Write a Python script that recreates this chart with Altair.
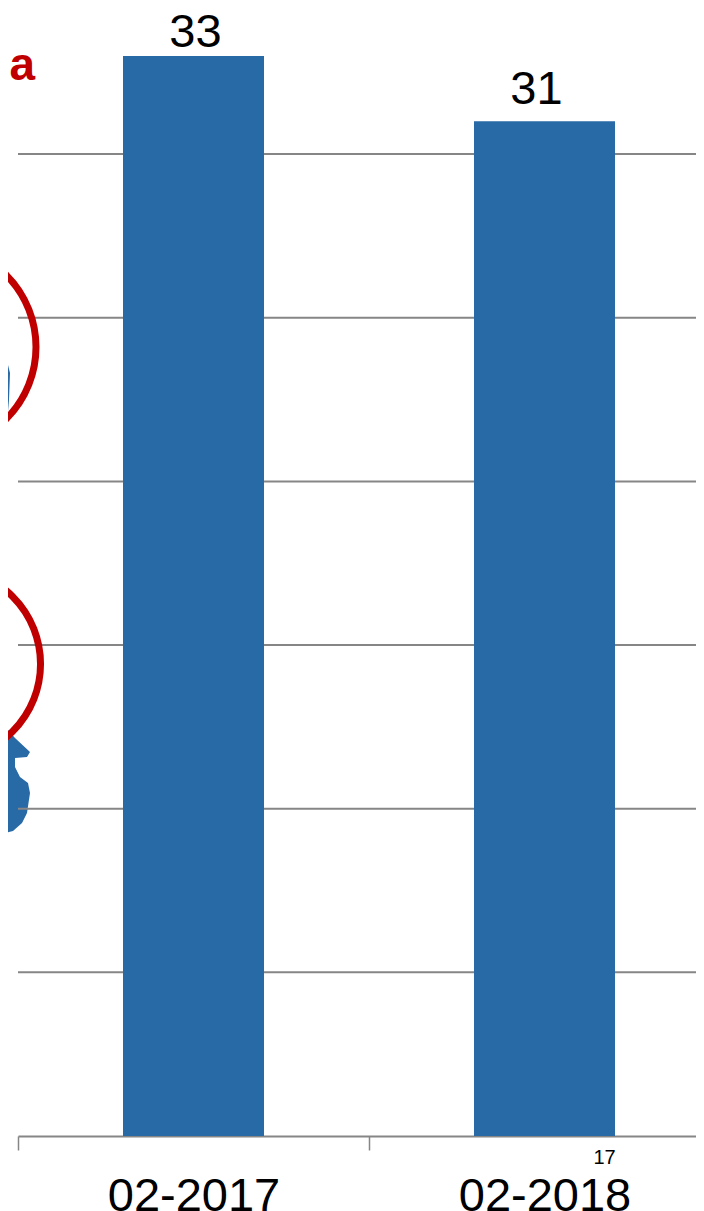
import altair as alt
import pandas as pd

periods = ["02-2017", "02-2018"]
values = [33, 31]
label_dx = [2, -8]
label_dy = [-9, -17]
grid_values = [5, 10, 15, 20, 25, 30]

# Map fragments behind the chart, read in picture units
upper_y = [327, 328, 337, 353, 373, 400, 423, 432]
upper_x = [0, 2, 7, 5, 10, 9, 7, 0]
lower_y = [703, 717, 730, 738, 752, 757, 758, 767, 777, 783, 793, 813, 823, 831, 834]
lower_x = [0, 3, 8, 15, 30, 27, 15, 15, 20, 28, 30, 27, 22, 13, 0]
ring_x = [-66, -55]
ring_y = [347, 664]
ring_size = [41616, 36500]

FONT = "Liberation Sans"
BLUE = "#286AA6"
GREY = "#868686"
RED = "#C00000"
W, H = 678, 1128
BAND_SPAN = 702

x_band = alt.Scale(domain=periods, paddingInner=0, paddingOuter=0, range=[0, BAND_SPAN])
y_val = alt.Scale(domain=[0, H / 32.73], nice=False, zero=False)
x_pic = alt.Scale(domain=[18, 18 + W], nice=False, zero=False)
y_pic = alt.Scale(domain=[1136, 8], nice=False, zero=False)

df = pd.DataFrame({"period": periods, "value": values, "dx": label_dx, "dy": label_dy})


def blob(xs, ys):
    d = pd.DataFrame({"px": xs, "py": ys, "left": [-10] * len(xs)})
    return alt.Chart(d).mark_area(color=BLUE, orient="horizontal", clip=False).encode(
        x=alt.X("px:Q", scale=x_pic, axis=None),
        x2="left:Q",
        y=alt.Y("py:Q", scale=y_pic, axis=None),
    )


grid = alt.Chart(pd.DataFrame({"v": grid_values})).mark_rule(color=GREY, strokeWidth=2).encode(
    y=alt.Y("v:Q", scale=y_val, axis=None)
)

rings = alt.Chart(pd.DataFrame({"px": ring_x, "py": ring_y, "s": ring_size})).mark_point(
    filled=False, color=RED, strokeWidth=7, opacity=1, clip=False
).encode(
    x=alt.X("px:Q", scale=x_pic, axis=None),
    y=alt.Y("py:Q", scale=y_pic, axis=None),
    size=alt.Size("s:Q", scale=None, legend=None),
)

bars = alt.Chart(df).mark_bar(size=141, color=BLUE).encode(
    x=alt.X(
        "period:N",
        scale=x_band,
        title=None,
        axis=alt.Axis(
            labelAngle=0,
            labelFont=FONT,
            labelFontSize=47,
            labelColor="#000000",
            labelBaseline="alphabetic",
            labelPadding=60,
            tickBand="extent",
            tickSize=14,
            tickColor=GREY,
            tickWidth=1.5,
            domainColor=GREY,
            domainWidth=2,
            grid=False,
        ),
    ),
    y=alt.Y("value:Q", scale=y_val, axis=None),
)


def value_label(i):
    return alt.Chart(df.iloc[[i]]).mark_text(
        font=FONT, fontSize=47, color="#000000", baseline="alphabetic",
        dx=label_dx[i], dy=label_dy[i],
    ).encode(
        x=alt.X("period:N", scale=x_band, axis=None),
        y=alt.Y("value:Q", scale=y_val, axis=None),
        text="value:Q",
    )


def note(text, px, py, size, color, weight, align):
    d = pd.DataFrame({"px": [px], "py": [py], "t": [text]})
    return alt.Chart(d).mark_text(
        font=FONT, fontSize=size, color=color, fontWeight=weight,
        baseline="alphabetic", align=align, clip=False,
    ).encode(
        x=alt.X("px:Q", scale=x_pic, axis=None),
        y=alt.Y("py:Q", scale=y_pic, axis=None),
        text="t:N",
    )


chart = alt.layer(
    blob(upper_x, upper_y),
    blob(lower_x, lower_y),
    grid,
    rings,
    bars,
    value_label(0),
    value_label(1),
    note("a", 35, 80, 46, RED, "bold", "right"),
    note("17", 604.5, 1164, 20, "#000000", "normal", "center"),
).resolve_scale(x="independent", y="independent").properties(
    width=W,
    height=H,
    autosize=alt.AutoSizeParams(type="none"),
    padding={"left": 10, "top": 0, "right": 0, "bottom": 75},
    background="white",
).configure_view(stroke=None)

chart.save("out.html", embed_options={"renderer": "svg", "actions": False})
